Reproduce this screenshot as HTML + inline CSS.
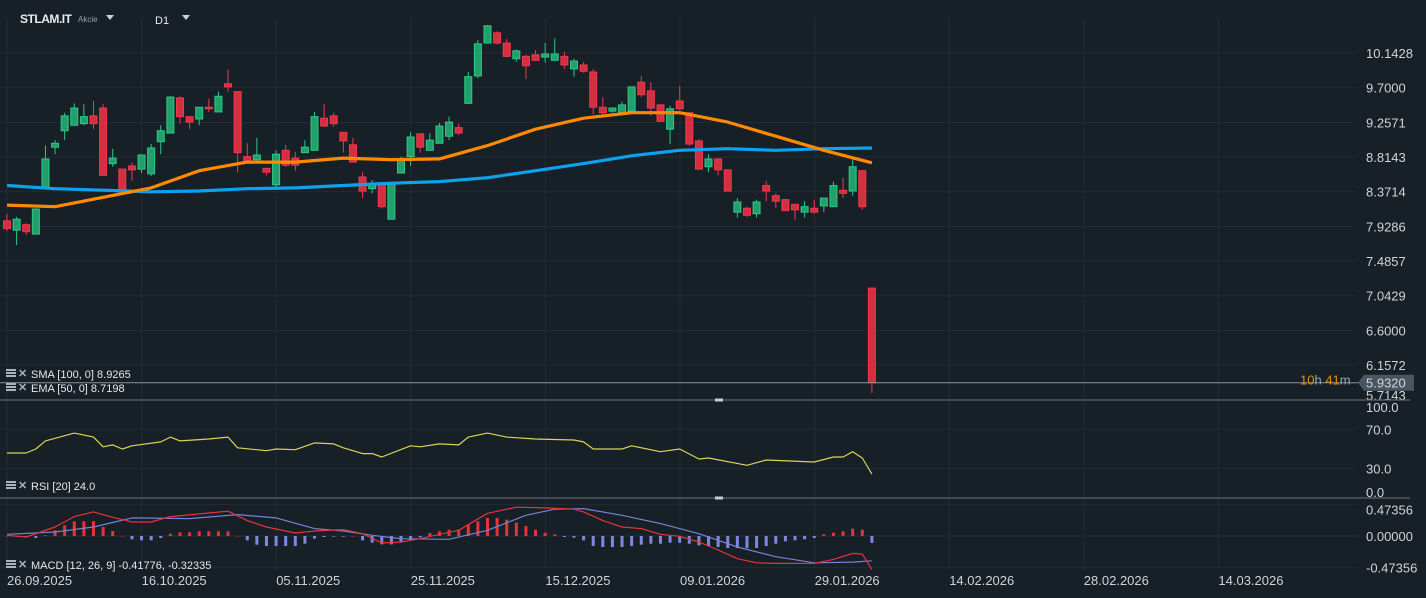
<!DOCTYPE html>
<html><head><meta charset="utf-8"><style>
html,body{margin:0;padding:0;background:#171f27;}
body{width:1426px;height:598px;overflow:hidden;position:relative;font-family:"Liberation Sans",sans-serif;}
svg{position:absolute;left:0;top:0;}
.t{fill:#cfd4d9;font-size:13px;}
.lg{fill:#e6e9ec;font-size:11px;}
</style></head><body>
<svg id="c" width="1426" height="598">
  <g id="grid"></g>
  <g id="price"></g>
  <g id="rsi"></g>
  <g id="macd"></g>
  <g id="axes"></g>
  <text x="20" y="23" fill="#e8eaed" font-size="12" font-weight="bold" textLength="52">STLAM.IT</text>
  <text x="78" y="22" fill="#9aa3ab" font-size="8">Akcie</text>
  <path d="M106 15 L114 15 L110 20 Z" fill="#d0d4d8"/>
  <text x="155" y="24" fill="#e8eaed" font-size="11">D1</text>
  <path d="M182 15 L190 15 L186 20 Z" fill="#d0d4d8"/>
</svg>
<script>
const NS="http://www.w3.org/2000/svg";
// ---- data ----
const dateLabels=["26.09.2025","16.10.2025","05.11.2025","25.11.2025","15.12.2025","09.01.2026","29.01.2026","14.02.2026","28.02.2026","14.03.2026"];
const priceTicks=[10.1428,9.7000,9.2571,8.8143,8.3714,7.9286,7.4857,7.0429,6.6000,6.1572,5.7143];
const rsiTicks=[100,70,30,0];
const macdTicks=[0.47356,0,-0.47356];
const opens=[8.00,7.88,7.95,7.83,8.42,8.94,9.15,9.22,9.24,9.34,9.44,8.73,8.66,8.70,8.66,8.60,9.01,9.12,9.57,9.33,9.30,9.45,9.39,9.75,9.65,8.82,8.78,8.67,8.46,8.90,8.80,8.87,8.90,9.31,9.34,9.13,8.97,8.56,8.41,8.48,8.02,8.61,8.82,9.11,8.90,8.99,9.08,9.19,9.50,9.85,10.27,10.40,10.27,10.07,10.10,10.12,10.09,10.05,10.10,9.94,9.99,9.90,9.45,9.40,9.38,9.40,9.77,9.66,9.48,9.17,9.53,9.38,9.02,8.69,8.79,8.65,8.11,8.16,8.09,8.45,8.32,8.27,8.21,8.11,8.16,8.19,8.18,8.39,8.38,8.64,7.14];
const highs=[8.09,8.05,7.97,8.16,8.96,9.03,9.38,9.50,9.49,9.53,9.49,8.92,8.66,8.74,8.85,8.98,9.22,9.59,9.59,9.33,9.45,9.56,9.65,9.93,9.65,8.99,9.06,8.67,8.90,8.97,8.88,9.03,9.39,9.49,9.38,9.13,9.06,8.62,8.52,8.50,8.47,8.82,9.13,9.11,9.12,9.25,9.33,9.24,9.90,10.31,10.50,10.42,10.32,10.19,10.12,10.18,10.27,10.33,10.16,10.07,10.03,9.94,9.58,9.44,9.52,9.71,9.85,9.77,9.49,9.47,9.72,9.38,9.04,8.85,8.80,8.65,8.29,8.18,8.27,8.51,8.35,8.27,8.21,8.25,8.27,8.29,8.50,8.55,8.82,8.64,7.14];
const lows=[7.87,7.69,7.82,7.83,8.42,8.85,9.03,9.22,9.22,9.17,8.58,8.69,8.34,8.51,8.61,8.57,8.85,9.12,9.24,9.17,9.22,9.39,9.39,9.65,8.62,8.74,8.76,8.58,8.43,8.69,8.64,8.87,8.90,9.20,9.20,8.87,8.75,8.29,8.35,8.16,8.02,8.61,8.70,8.87,8.90,8.99,9.03,9.10,9.50,9.82,10.27,10.25,10.09,10.03,9.81,10.04,10.02,10.05,9.94,9.84,9.89,9.36,9.36,9.38,9.38,9.40,9.58,9.34,9.27,8.98,9.41,8.96,8.65,8.62,8.58,8.38,8.04,8.05,8.04,8.25,8.16,8.13,8.01,8.04,8.09,8.11,8.18,8.29,8.32,8.14,5.80];
const closes=[7.90,8.02,7.86,8.15,8.79,8.99,9.34,9.44,9.33,9.24,8.58,8.80,8.39,8.65,8.84,8.93,9.15,9.58,9.33,9.26,9.45,9.43,9.59,9.71,8.87,8.76,8.84,8.62,8.85,8.71,8.71,8.94,9.33,9.21,9.24,9.02,8.75,8.38,8.47,8.18,8.47,8.78,9.07,8.94,9.03,9.21,9.26,9.12,9.84,10.26,10.49,10.27,10.10,10.17,9.98,10.05,10.13,10.13,9.99,10.04,9.91,9.45,9.38,9.44,9.48,9.71,9.61,9.44,9.27,9.43,9.43,8.98,8.66,8.79,8.65,8.38,8.24,8.07,8.24,8.38,8.25,8.13,8.14,8.18,8.11,8.29,8.45,8.35,8.69,8.18,5.93];
const maIdx=[0,5,10,15,20,25,30,35,40,45,50,55,60,65,70,75,80,85,90];
const smaVals=[8.45,8.41,8.39,8.37,8.38,8.41,8.42,8.45,8.48,8.50,8.55,8.64,8.73,8.83,8.90,8.92,8.90,8.92,8.93];
const emaVals=[8.20,8.18,8.30,8.42,8.64,8.75,8.75,8.80,8.78,8.79,8.96,9.17,9.31,9.38,9.38,9.26,9.08,8.90,8.74];
const rsiIdx=[0,2,3,4,7,9,10,11,12,13,16,17,18,21,23,24,27,28,30,32,34,35,37,38,39,42,43,45,47,48,50,52,55,59,60,61,64,65,68,70,72,73,77,79,84,86,87,88,89,90];
const rsiVals=[45.6,45.6,49.7,58,66,62,52,54,49.7,53,57,62,58,60,62,51,48,49.7,49,56,55,51,45,45,41.5,53,52,55,54,62,66,62,60,59,57,49.7,49.7,53,47,49.7,39.5,40.5,33,38.5,36.4,41.5,41.5,47,40.5,24];
const histVals=[0,-0.01,-0.02,-0.03,0.01,0.085,0.16,0.22,0.22,0.22,0.135,0.075,0,-0.05,-0.065,-0.065,-0.03,0.035,0.055,0.055,0.07,0.07,0.07,0.07,0,-0.065,-0.13,-0.15,-0.15,-0.15,-0.15,-0.115,-0.04,-0.015,-0.01,-0.01,0,-0.065,-0.1,-0.125,-0.125,-0.1,-0.065,-0.02,0.045,0.07,0.095,0.095,0.17,0.22,0.27,0.27,0.245,0.2,0.15,0.095,0.05,0.025,-0.015,-0.025,-0.065,-0.15,-0.165,-0.165,-0.165,-0.15,-0.13,-0.115,-0.115,-0.1,-0.1,-0.115,-0.14,-0.15,-0.165,-0.18,-0.18,-0.18,-0.18,-0.15,-0.115,-0.08,-0.065,-0.05,-0.03,0.025,0.05,0.07,0.11,0.095,-0.105];
const macdIdx=[0,2,5,7,9,11,13,15,17,20,23,25,27,30,32,35,37,39,41,43,45,47,50,53,56,59,60,62,64,66,68,70,72,74,76,78,80,84,86,88,89,90];
const macdVals=[0.01,-0.015,0.135,0.29,0.36,0.28,0.21,0.21,0.29,0.33,0.37,0.23,0.135,0.045,0.075,0.095,0.035,-0.105,-0.09,-0.04,0.025,0.085,0.34,0.43,0.42,0.40,0.36,0.23,0.135,0.11,0.025,-0.005,-0.09,-0.21,-0.34,-0.40,-0.41,-0.41,-0.35,-0.26,-0.27,-0.50];
const sigIdx=[0,5,9,13,19,24,28,32,35,38,41,46,50,54,57,60,64,68,72,76,80,84,88,90];
const sigVals=[0.025,0.06,0.135,0.27,0.26,0.32,0.27,0.11,0.075,0.01,-0.04,-0.05,0.085,0.31,0.40,0.41,0.31,0.185,0.035,-0.165,-0.31,-0.40,-0.39,-0.37];
const lastPrice=5.9320;
// ---- scales ----
const X0=7, DX=9.61;
const xi=i=>X0+i*DX;
const yP=p=>53+(10.1428-p)*78.3;
const yR=v=>497.5-v*0.975;
const yM=v=>536-v*66.9;
function el(tag,attrs,parent){const e=document.createElementNS(NS,tag);for(const k in attrs)e.setAttribute(k,attrs[k]);parent.appendChild(e);return e;}
const G=document.getElementById('grid'),P=document.getElementById('price'),R=document.getElementById('rsi'),M=document.getElementById('macd'),A=document.getElementById('axes');
dateLabels.forEach((d,k)=>{const x=7+k*134.6;
 const l=el('line',{x1:x,x2:x,y1:18,y2:570,stroke:'#232c35','stroke-width':1},G);
 
 
 const t=el('text',{x:x,y:585,class:'t'},A);t.textContent=d;
 
 
});
priceTicks.forEach((p,k)=>{const y=yP(p);
 if(k<priceTicks.length-1){const l=el('line',{x1:0,x2:1356,y1:y,y2:y,stroke:'#232c35'},G);
 
 }
 const t=el('text',{x:1366,y:Math.min(y+5,400),class:'t'},A);t.textContent=p.toFixed(4);
 
 
});
rsiTicks.forEach(v=>{const y=yR(v);
 if(v==70||v==30){const l=el('line',{x1:0,x2:1356,y1:y,y2:y,stroke:'#232c35'},G);
 
 }
 const t=el('text',{x:1366,y:Math.max(Math.min(y+5,497),412),class:'t'},A);t.textContent=v.toFixed(1);
 
 
});
macdTicks.forEach(v=>{const y=yM(v);
 const l=el('line',{x1:0,x2:1356,y1:y,y2:y,stroke:'#232c35'},G);
 
 
 const t=el('text',{x:1366,y:y+5+(v>0?5:0),class:'t'},A);t.textContent=v.toFixed(5);
 
 
});
[400,498].forEach(y=>{const l=el('line',{x1:0,x2:1410,y1:y,y2:y,stroke:'#5b6570','stroke-width':1.2},A);
 
 
 const h=el('rect',{x:715,y:y-1.5,width:8,height:3,fill:'#c8ccd0'},A);
 
 
});
opens.forEach((o,i)=>{const c=closes[i],up=c>=o,x=xi(i);
 const col=up?'#2ec987':'#f0384f',fill=up?'#22a06c':'#d3303f';
 const w=el('line',{x1:x,x2:x,y1:yP(highs[i]),y2:yP(lows[i]),stroke:col,'stroke-width':1},P);
 
 
 const t=Math.min(yP(o),yP(c)),h=Math.max(Math.abs(yP(o)-yP(c)),1);
 const b=el('rect',{x:x-3.5,y:t,width:7,height:h,fill:fill,stroke:col,'stroke-width':1},P);
 
 
});
function line(idx,vals,ys,color,w,parent,name){const d=idx.map((i,k)=>(k?'L':'M')+xi(i).toFixed(1)+' '+ys(vals[k]).toFixed(1)).join(' ');
 const p=el('path',{d:d,fill:'none',stroke:color,'stroke-width':w,'stroke-linejoin':'round'},parent);
 
 }
line(maIdx,smaVals,yP,'#0ea2ee',3.2,P,'sma-100-line');
line(maIdx,emaVals,yP,'#ff8a00',3.2,P,'ema-50-line');
line(rsiIdx,rsiVals,yR,'#d9d456',1.2,R,'rsi-line');
histVals.forEach((v,i)=>{const x=xi(i),y0=yM(0),y1=yM(v);
 const r=el('rect',{x:x-1.5,y:Math.min(y0,y1),width:3,height:Math.max(Math.abs(y1-y0),0.5),fill:v>=0?'#e8323a':'#7d88e0'},M);
 
 
});
line(sigIdx,sigVals,yM,'#7483d6',1.2,M,'macd-signal-line');
line(macdIdx,macdVals,yM,'#e8323a',1.2,M,'macd-line');
const ly=yP(lastPrice);
const pl=el('line',{x1:0,x2:1360,y1:ly,y2:ly,stroke:'#8a929a','stroke-width':1},A);


const pb=el('path',{d:`M1358 ${ly} L1364 ${ly-8} L1414 ${ly-8} L1414 ${ly+8} L1364 ${ly+8} Z`,fill:'#4a5562'},A);


const pt=el('text',{x:1366,y:ly+5,class:'t',fill:'#eef0f2'},A);pt.textContent=lastPrice.toFixed(4);


const cd=el('text',{x:1300,y:ly+2,'font-size':'13'},A);
cd.innerHTML='<tspan fill="#e88a0c">10</tspan><tspan fill="#9aa2aa">h </tspan><tspan fill="#e88a0c">41</tspan><tspan fill="#9aa2aa">m</tspan>';


function legend(y,txt,name){const g=el('g',{},A);
 
 
 el('rect',{x:6,y:y-8,width:10,height:2,fill:'#aab2ba'},g);el('rect',{x:6,y:y-5,width:10,height:2,fill:'#aab2ba'},g);el('rect',{x:6,y:y-2,width:10,height:2,fill:'#aab2ba'},g);
 const x=el('text',{x:18,y:y,fill:'#aab2ba','font-size':'11','font-weight':'bold'},g);x.textContent='✕';
 const t=el('text',{x:31,y:y+1,class:'lg'},g);t.textContent=txt;}
legend(377,'SMA [100, 0] 8.9265','sma-legend');
legend(391,'EMA [50, 0] 8.7198','ema-legend');
legend(489,'RSI [20] 24.0','rsi-legend');
legend(568,'MACD [12, 26, 9] -0.41776, -0.32335','macd-legend');
</script>
</body></html>
